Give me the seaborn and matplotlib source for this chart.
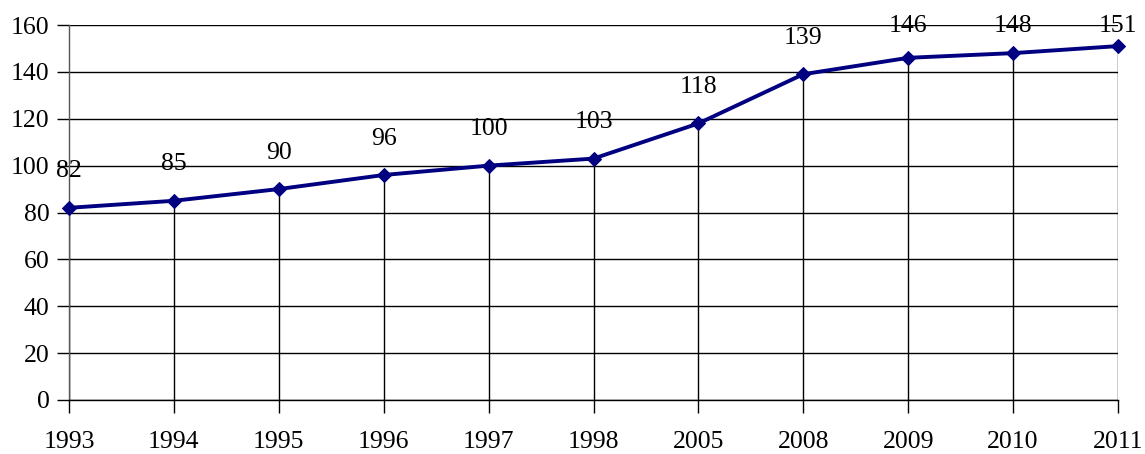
import matplotlib
matplotlib.use("Agg")
import matplotlib.pyplot as plt
import seaborn as sns
import pandas as pd
import numpy as np

years = ["1993", "1994", "1995", "1996", "1997", "1998", "2005", "2008", "2009", "2010", "2011"]
values = [82, 85, 90, 96, 100, 103, 118, 139, 146, 148, 151]
y_ticks = [0, 20, 40, 60, 80, 100, 120, 140, 160]

sns.set_theme(style="white")
plt.rcParams['font.family'] = ['Liberation Serif', 'DejaVu Serif']

df = pd.DataFrame({"pos": np.arange(len(years)), "year": years, "value": values})

fig = plt.figure(figsize=(11.45, 4.54), dpi=100)
ax = fig.add_axes([69/1145, 1 - 400/454, (1118 - 69)/1145, 375/454])

ax.set_ylim(0, 160)
ax.set_xlim(0, len(years) - 1)
ax.set_yticks(y_ticks)
ax.yaxis.grid(True, color="black", linewidth=1.0)
ax.xaxis.grid(False)
ax.set_axisbelow(True)

ax.vlines(df["pos"], 0, df["value"], color="black", linewidth=1.0, zorder=1)

sns.lineplot(data=df, x="pos", y="value", ax=ax, color="#000080", linewidth=2.8,
             marker="D", markersize=7.5, markeredgecolor="#000080", zorder=3, clip_on=False)

for p, v in zip(df["pos"], df["value"]):
    ty = min(v + 15.5, 159.5)
    ax.text(p, ty, str(v), ha="center", va="center", fontsize=18.5, color="black", zorder=4)

ax.set_xticks(df["pos"])
ax.set_xticklabels(years)
ax.set_xlabel("")
ax.set_ylabel("")
ax.tick_params(axis="x", length=9, width=1, color="black", pad=13, labelsize=18.5,
               labelcolor="black", direction="out", bottom=True)
ax.tick_params(axis="y", length=9, width=1, color="black", pad=5, labelsize=18.5,
               labelcolor="black", direction="out", left=True)

for s in ["top", "right"]:
    ax.spines[s].set_visible(False)
ax.spines["left"].set_color("#555555")
ax.spines["left"].set_linewidth(1.0)
ax.spines["bottom"].set_color("black")
ax.spines["bottom"].set_linewidth(1.0)

fig.savefig("out.png", dpi=100)
